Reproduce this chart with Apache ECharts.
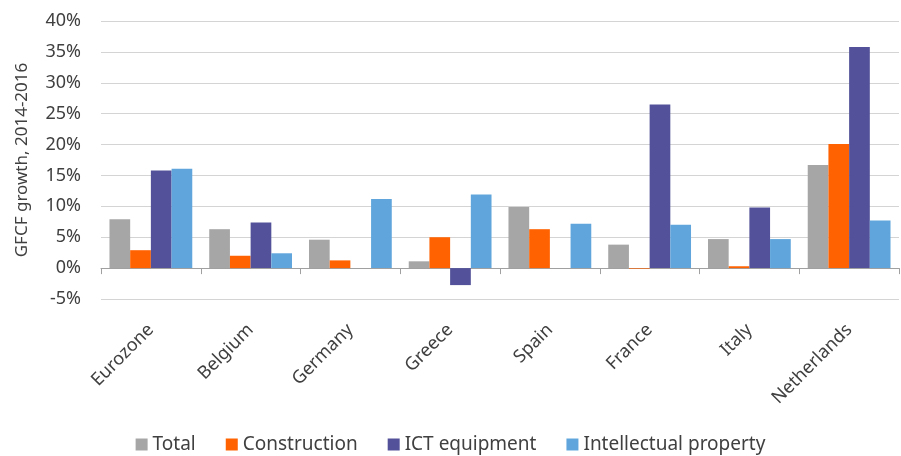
<!DOCTYPE html>
<html>
<head>
<meta charset="utf-8">
<script src="https://cdn.jsdelivr.net/npm/echarts@6/dist/echarts.min.js"></script>
<style>
  html, body { margin: 0; padding: 0; background: #fff; }
  #chart { width: 901px; height: 456px; }
</style>
</head>
<body>
<div id="chart"></div>
<script>
const countries = ['Eurozone', 'Belgium', 'Germany', 'Greece', 'Spain', 'France', 'Italy', 'Netherlands']

// GFCF growth 2014-2016, in %
const total = [7.9, 6.3, 4.6, 1.1, 9.9, 3.8, 4.7, 16.7]
const construction = [2.9, 2.0, 1.25, 5.0, 6.3, -0.1, 0.3, 20.1]
const ictEquipment = [15.8, 7.4, 0, -2.75, 0, 26.5, 9.8, 35.8]
const intellectualProperty = [16.1, 2.4, 11.2, 11.9, 7.2, 7.0, 4.7, 7.7]

const textColor = '#404040'
const fontFamily = '"Noto Sans", sans-serif'

const chart = echarts.init(document.getElementById('chart'))

function barSeries(name, data, color) {
  return {
    name: name,
    type: 'bar',
    data: data,
    barGap: 0,
    barCategoryGap: '17%',
    itemStyle: { color: color },
  }
}

chart.setOption({
  animation: false,
  color: ['#a6a6a6', '#ff6200', '#525199', '#60a6dc'],
  textStyle: { fontFamily: fontFamily },
  grid: {
    left: 101,
    right: 2,
    top: 21,
    bottom: 157,
  },
  legend: {
    top: 430,
    left: 'center',
    icon: 'rect',
    itemWidth: 12,
    itemHeight: 12,
    itemGap: 30,
    textStyle: { color: textColor, fontSize: 19, fontFamily: fontFamily },
    data: ['Total', 'Construction', 'ICT equipment', 'Intellectual property'],
  },
  xAxis: {
    type: 'category',
    data: countries,
    axisLine: { onZero: true, lineStyle: { color: '#a0a0a0', width: 1 } },
    axisTick: { show: true, length: 6, lineStyle: { color: '#a0a0a0' } },
    axisLabel: {
      rotate: 45,
      margin: 28,
      color: textColor,
      fontSize: 18,
      fontFamily: fontFamily,
      interval: 0,
    },
  },
  yAxis: {
    type: 'value',
    min: -5,
    max: 40,
    interval: 5,
    name: 'GFCF growth, 2014-2016',
    nameLocation: 'middle',
    nameGap: 70,
    nameTextStyle: { color: textColor, fontSize: 17, fontFamily: fontFamily },
    axisLine: { show: false },
    axisTick: { show: false },
    axisLabel: {
      formatter: '{value}%',
      color: textColor,
      fontSize: 18,
      margin: 20,
      fontFamily: fontFamily,
    },
    splitLine: { lineStyle: { color: '#d4d4d4', width: 1 } },
  },
  series: [
    barSeries('Total', total, '#a6a6a6'),
    barSeries('Construction', construction, '#ff6200'),
    barSeries('ICT equipment', ictEquipment, '#525199'),
    barSeries('Intellectual property', intellectualProperty, '#60a6dc'),
  ],
})
</script>
</body>
</html>
